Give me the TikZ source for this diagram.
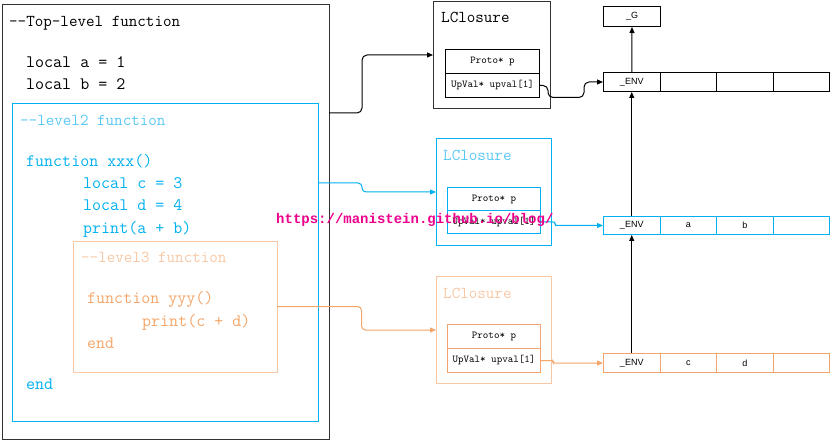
\documentclass[tikz,border=0pt]{standalone}
\usepackage{fontspec}
\setmainfont{Liberation Sans}
\newfontfamily\wmfont{Liberation Mono}
\usetikzlibrary{arrows.meta}
\definecolor{cblue}{RGB}{0,176,240}
\definecolor{cbluel}{RGB}{90,200,245}
\definecolor{corange}{RGB}{244,165,105}
\definecolor{corangel}{RGB}{248,200,165}
\definecolor{corangeb}{RGB}{242,165,110}
\definecolor{cdark}{RGB}{50,50,50}
\tikzset{
  box/.style={draw, line width=1pt, inner sep=0pt, anchor=north west},
  cell/.style={box, minimum width=56.5pt, font=\fontsize{9}{9}\selectfont},
  code/.style={anchor=mid west, inner sep=0pt, font=\ttfamily\fontsize{17.5}{17.5}\selectfont},
  ctitle/.style={anchor=mid west, inner sep=0pt, font=\ttfamily\fontsize{16.6}{16.6}\selectfont},
  small/.style={box, font=\ttfamily\fontsize{10.5}{10.5}\selectfont},
  conn/.style={line width=1pt, -{Triangle[length=6pt,width=5pt]}},
  wm/.style={anchor=mid west, inner sep=0pt, text=magenta, font=\wmfont\bfseries\fontsize{14}{14}\selectfont}
}
\begin{document}
\begin{tikzpicture}[x=1pt,y=-1pt]
\useasboundingbox (0,0) rectangle (831,441);
% ---- code boxes
\node[box, draw=cdark, minimum width=327.5pt, minimum height=434pt] (outer) at (1.5,4.5) {};
\node[box, draw=cblue, minimum width=306pt, minimum height=318pt] (lvl2) at (12,103) {};
\node[box, draw=corangel, minimum width=204pt, minimum height=131pt] (lvl3) at (73,241) {};

\node[ctitle] (t1) at (9,24) {--Top-level function};
\node[code] (ca) at (26,65) {local a = 1};
\node[code] (cb) at (26,87) {local b = 2};
\node[ctitle, text=cbluel] (t2) at (20,123) {--level2 function};
\node[code, text=cblue] (fx) at (26,164) {function xxx()};
\node[code, text=cblue] (cc) at (83,186) {local c = 3};
\node[code, text=cblue] (cd) at (83,208) {local d = 4};
\node[code, text=cblue] (pab) at (83,231) {print(a + b)};
\node[code, text=cblue] (endx) at (26,387) {end};
\node[ctitle, text=corangel] (t3) at (81,260) {--level3 function};
\node[code, text=corange] (fy) at (87,301) {function yyy()};
\node[code, text=corange] (pcd) at (142,324) {print(c + d)};
\node[code, text=corange] (endy) at (87,346) {end};

% ---- closures
\node[box, draw=cdark, minimum width=117pt, minimum height=107pt] (lcA) at (433,1) {};
\node[ctitle] (lcAt) at (441,20) {LClosure};
\node[small, minimum width=94pt, minimum height=24pt] (prA) at (445,49) {Proto* p};
\node[small, minimum width=94pt, minimum height=24pt] (upA) at (445,73) {UpVal* upval[1]};

\node[box, draw=cblue, minimum width=115pt, minimum height=107pt] (lcB) at (436,138) {};
\node[ctitle, text=cbluel] (lcBt) at (443,158) {LClosure};
\node[small, draw=cblue, minimum width=93pt, minimum height=23pt] (prB) at (447,187) {Proto* p};
\node[small, draw=cblue, minimum width=93pt, minimum height=23pt] (upB) at (447,210) {UpVal* upval[1]};

\node[box, draw=corangel, minimum width=115pt, minimum height=107pt] (lcC) at (436,276) {};
\node[ctitle, text=corangel] (lcCt) at (443,296) {LClosure};
\node[small, draw=corangeb, minimum width=93pt, minimum height=24pt] (prC) at (447,324) {Proto* p};
\node[small, draw=corangeb, minimum width=93pt, minimum height=24pt] (upC) at (447,348) {UpVal* upval[1]};

% ---- tables
\node[cell, minimum width=57pt, minimum height=20pt] (gG) at (603,6) {\_G};

\node[cell, minimum height=19pt] (envA0) at (603,72) {\_ENV};
\node[cell, minimum height=19pt] (envA1) at (659.5,72) {};
\node[cell, minimum height=19pt] (envA2) at (716,72) {};
\node[cell, minimum height=19pt] (envA3) at (772.5,72) {};

\node[cell, draw=cblue, minimum height=18pt] (envB0) at (603,216) {\_ENV};
\node[cell, draw=cblue, minimum height=18pt] (envB1) at (659.5,216) {a};
\node[cell, draw=cblue, minimum height=18pt] (envB2) at (716,216) {b};
\node[cell, draw=cblue, minimum height=18pt] (envB3) at (772.5,216) {};

\node[cell, draw=corangeb, minimum height=19pt] (envC0) at (603,353) {\_ENV};
\node[cell, draw=corangeb, minimum height=19pt] (envC1) at (659.5,353) {c};
\node[cell, draw=corangeb, minimum height=19pt] (envC2) at (716,353) {d};
\node[cell, draw=corangeb, minimum height=19pt] (envC3) at (772.5,353) {};

% ---- connectors
\coordinate (s1) at (329,113);
\coordinate (s2) at (318,183);
\coordinate (s3) at (277,306.5);
\draw[conn, rounded corners=5pt] (s1) -- ++(33,0) |- (lcA.west);
\draw[conn, draw=cblue, rounded corners=4pt] (s2) -- ++(44,0) |- (lcB.west);
\draw[conn, draw=corange, rounded corners=4pt] (s3) -- ++(84.5,0) |- (lcC.west);

\draw[conn, rounded corners=5pt] (upA.east) -- ++(8,0) -- ++(0,12) -- ++(36,0) |- (envA0.west);
\draw[conn, draw=cblue, rounded corners=2pt] (upB.east) -- ++(14,0) |- (envB0.west);
\draw[conn, draw=corange, rounded corners=2pt] (upC.east) -- ++(12,0) |- (envC0.west);

\draw[conn] (envA0.north) -- (gG.south);
\draw[conn] (envB0.north) -- (envA0.south);
\draw[conn] (envC0.north) -- (envB0.south);

% ---- watermark
\node[wm] (wmk) at (276,221) {https://manistein.github.io/blog/};
\end{tikzpicture}
\end{document}
